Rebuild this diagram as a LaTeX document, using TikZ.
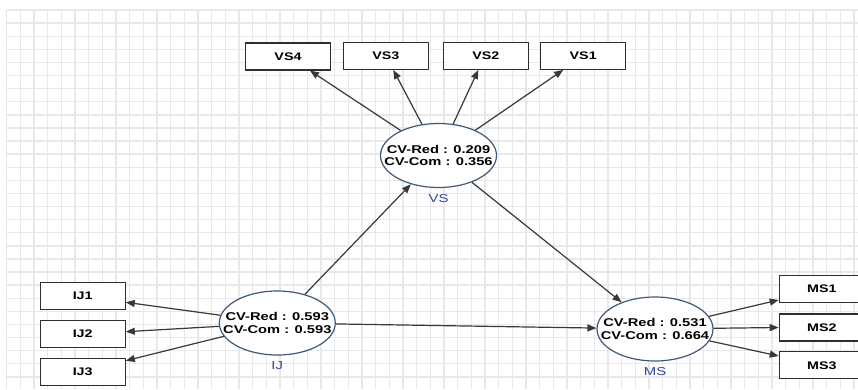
\documentclass[tikz,border=0pt]{standalone}
\usepackage{fontspec}
\usetikzlibrary{arrows.meta,shapes.geometric}
\newfontfamily\labfont{Liberation Sans}[FakeStretch=1.3]
\definecolor{gridc}{HTML}{E8E8E8}
\definecolor{boxc}{HTML}{2E2E2A}
\definecolor{ellc}{HTML}{3E5A78}
\definecolor{arrc}{HTML}{383838}
\definecolor{latc}{HTML}{34479A}
\tikzset{
  indic/.style={draw=boxc, line width=1.2pt, fill=white, minimum width=85pt, minimum height=27pt, inner sep=0pt, font=\labfont\bfseries\fontsize{11}{12}\selectfont},
  latent/.style={ellipse, draw=ellc, line width=1.2pt, fill=white, minimum width=116pt, minimum height=64pt, inner sep=0pt},
  lattext/.style={align=center, inner sep=0pt, font=\labfont\bfseries\fontsize{11.3}{12.2}\selectfont},
  latname/.style={inner sep=0pt, text=latc, font=\labfont\fontsize{11.5}{12}\selectfont},
  link/.style={draw=arrc, line width=1.2pt, -{Triangle[length=9pt,width=7pt]}}
}
\begin{document}
\begin{tikzpicture}[x=1pt,y=-1pt]
\clip (0,0) rectangle (858,389);
\fill[white] (0,0) rectangle (858,389);
% grid
\foreach \i in {0,...,62} {
  \draw[gridc, line width=1.4pt] ({6.67+13.667*\i},10) -- ({6.67+13.667*\i},389);
}
\foreach \j in {0,...,28} {
  \draw[gridc, line width=1.4pt] (6.67,{10+13.1*\j}) -- (858,{10+13.1*\j});
}
% indicators
\node[indic] (vs4) at (288,56.5) {VS4};
\node[indic] (vs3) at (385.8,55.8) {VS3};
\node[indic] (vs2) at (485.8,55.8) {VS2};
\node[indic] (vs1) at (583.2,55.8) {VS1};
\node[indic] (ij1) at (82.7,296) {IJ1};
\node[indic] (ij2) at (82.7,334) {IJ2};
\node[indic] (ij3) at (82.7,371.7) {IJ3};
\node[indic] (ms1) at (821.8,289) {MS1};
\node[indic] (ms2) at (821.8,327.5) {MS2};
\node[indic] (ms3) at (821.8,365.3) {MS3};
% latent variables
\node[latent] (vs) at (438.5,155.5) {};
\node[latent] (ij) at (277.3,323) {};
\node[latent] (ms) at (655,329) {};
\node[lattext] (vst) at (vs.center) {CV-Red : 0.209\\CV-Com : 0.356};
\node[lattext] (ijt) at (ij.center) {CV-Red : 0.593\\CV-Com : 0.593};
\node[lattext] (mst) at (ms.center) {CV-Red : 0.531\\CV-Com : 0.664};
\node[latname] (vsn) at ([yshift=-10pt]vs.south) {VS};
\node[latname] (ijn) at ([yshift=-10pt]ij.south) {IJ};
\node[latname] (msn) at ([yshift=-10pt]ms.south) {MS};
% connectors
\draw[link] (vs) -- ([xshift=22pt]vs4.south);
\draw[link] (vs) -- ([xshift=7.5pt]vs3.south);
\draw[link] (vs) -- ([xshift=-7.5pt]vs2.south);
\draw[link] (vs) -- ([xshift=-20pt]vs1.south);
\draw[link] (ij) -- ([yshift=-6.3pt]ij1.east);
\draw[link] (ij) -- ([yshift=2.3pt]ij2.east);
\draw[link] (ij) -- ([yshift=11pt]ij3.east);
\draw[link] (ms) -- ([yshift=-11pt]ms1.west);
\draw[link] (ms) -- (ms2.west);
\draw[link] (ms) -- ([yshift=9.3pt]ms3.west);
\draw[link] (ij) -- (vs);
\draw[link] (vs) -- (ms);
\draw[link] (ij) -- (ms);
\end{tikzpicture}
\end{document}
